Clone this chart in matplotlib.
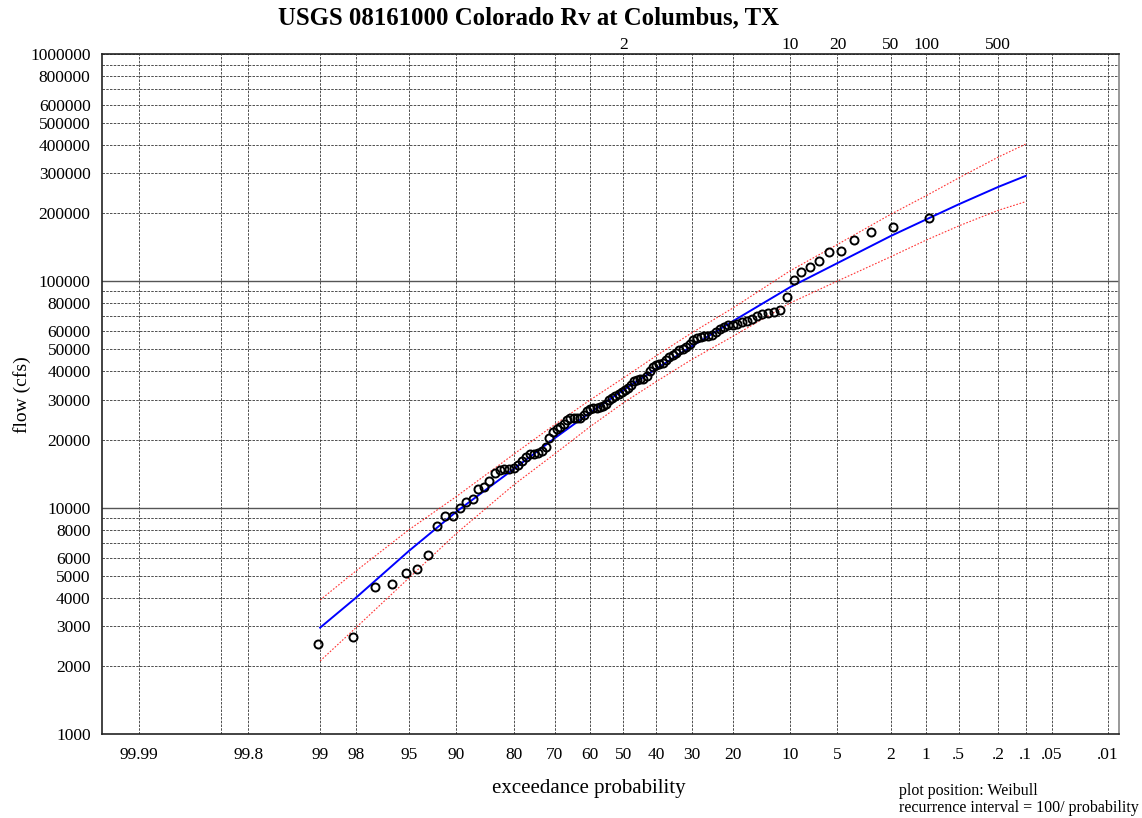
from statistics import NormalDist

import matplotlib

matplotlib.use("Agg")
import matplotlib.pyplot as plt
import numpy as np

plt.rcParams["font.family"] = ["Liberation Serif", "DejaVu Serif"]

# annual peak flows (cfs), ranked largest first
peak_flows = [
  189000, 173000, 164000, 152000, 136000, 134500, 122500, 115500, 109500, 101500,
  85300, 74500, 72800, 72500, 71500, 69900, 68100, 66800, 65700, 64800,
  63900, 63700, 62500, 61500, 59800, 58000, 57200, 57000, 56700, 56300,
  54900, 53000, 51400, 50400, 49400, 48300, 47300, 46400, 44700, 43500,
  43000, 42700, 41700, 40300, 38000, 36900, 36900, 36700, 36200, 34800,
  33700, 33000, 32500, 31700, 31000, 30500, 29800, 28600, 28000, 27900,
  27650, 27600, 27300, 26800, 25700, 25000, 24950, 24950, 24950, 24400,
  23300, 22800, 22300, 21600, 20300, 18600, 17800, 17400, 17230, 17220,
  16700, 16000, 15500, 15000, 14770, 14770, 14700, 14200, 13100, 12300,
  12100, 10970, 10570, 10000, 9230, 9230, 8340, 6170, 5380, 5150,
  4600, 4460, 2680, 2500,
]

# fitted frequency curve and confidence limits at standard probabilities (%)
fit_prob = [99, 98, 95, 90, 80, 70, 60, 50, 40, 30, 20, 10, 5, 2, 1, 0.5, 0.2, 0.1]
fit_flow = [2960, 4000, 6450, 9600, 14800, 20300, 26300, 33000, 41000, 51500,
            66500, 94000, 120000, 158000, 187000, 218000, 260000, 291000]
upper_flow = [3920, 5250, 8000, 11200, 17200, 23300, 29900, 37300, 46800, 59000,
              76000, 111000, 145000, 197000, 238000, 285000, 352000, 402000]
lower_flow = [2110, 2950, 4900, 7700, 12600, 17300, 22800, 29000, 36000, 45000,
              57000, 80000, 100000, 128000, 151600, 175000, 205000, 224000]

prob_ticks = [99.99, 99.9, 99.8, 99, 98, 95, 90, 80, 70, 60, 50, 40, 30, 20, 10,
              5, 2, 1, 0.5, 0.2, 0.1, 0.05, 0.01]
prob_labels = ["99.99", "", "99.8", "99", "98", "95", "90", "80", "70", "60", "50",
               "40", "30", "20", "10", "5", "2", "1", ".5", ".2", ".1", ".05", ".01"]

ri_labels = ["2", "10", "20", "50", "100", "500"]
ri_years = [2, 10, 20, 50, 100, 500]

flow_grid = [m * 10 ** e for e in (3, 4, 5) for m in range(1, 10)] + [1000000]
flow_labeled = [1, 2, 3, 4, 5, 6, 8]

nd = NormalDist()


def prob_to_x(p):
  # exceedance probability in percent -> normal deviate, reversed
  return -nd.inv_cdf(np.clip(p, 1e-9, 100 - 1e-9) / 100.0)


fig = plt.figure(figsize=(11.42, 8.18), dpi=100)
ax = fig.add_axes([0.08905, 0.10208, 0.89107, 0.83154])

# grid
for p in prob_ticks:
  ax.axvline(prob_to_x(p), color="#333333", lw=0.6, dashes=(3, 1.5), zorder=1)
for q in flow_grid:
  if q in (10000, 100000):
    ax.axhline(q, color="#555555", lw=1.0, zorder=1)
  else:
    ax.axhline(q, color="#333333", lw=0.6, dashes=(3, 1.5), zorder=1)

n = len(peak_flows)
weibull = [100.0 * (i + 1) / (n + 1) for i in range(n)]
xs = [prob_to_x(p) for p in weibull]

fx = [prob_to_x(p) for p in fit_prob]
ax.plot(fx, upper_flow, color="red", lw=0.8, ls=(0, (1.5, 1.5)), alpha=0.8, zorder=2)
ax.plot(fx, lower_flow, color="red", lw=0.8, ls=(0, (1.5, 1.5)), alpha=0.8, zorder=2)
ax.plot(fx, fit_flow, color="blue", lw=1.4, zorder=3)
ax.plot(xs, peak_flows, "o", ms=5.8, mfc="none", mec="black", mew=1.4, zorder=4)

ax.set_yscale("log")
ax.set_ylim(1000, 1000000)
ax.set_xlim(-4.003, 3.808)

ax.set_yticks([q for q in flow_grid if q / 10 ** int(np.log10(q)) in flow_labeled])
ax.set_yticklabels([str(q) for q in ax.get_yticks()])
ax.yaxis.set_minor_locator(matplotlib.ticker.NullLocator())
ax.set_xticks([prob_to_x(p) for p in prob_ticks])
ax.set_xticklabels(prob_labels)
ax.tick_params(axis="both", length=0, labelsize=12.5)
ax.tick_params(axis="x", pad=9)
ax.tick_params(axis="y", pad=8)

top = ax.secondary_xaxis("top")
top.set_xticks([prob_to_x(100.0 / t) for t in ri_years])
top.set_xticklabels(ri_labels)
top.tick_params(length=0, labelsize=12.5, pad=1)
top.spines["top"].set_visible(False)

for side in ("left", "bottom", "top"):
  ax.spines[side].set_color("#222222")
  ax.spines[side].set_linewidth(1.2)
ax.spines["right"].set_color("#888888")
ax.spines["right"].set_linewidth(1.2)

fig.text(22 / 1142, 1 - 395 / 818, "flow (cfs)", rotation=90, ha="center", va="center", fontsize=14)
fig.text(589 / 1142, 1 - 789 / 818, "exceedance probability", ha="center", va="center", fontsize=15)
fig.text(0.463, 1 - 18 / 818, "USGS 08161000 Colorado Rv at Columbus, TX",
         ha="center", va="center", fontsize=17.8, fontweight="bold")
fig.text(899 / 1142, 1 - 791 / 818, "plot position: Weibull", ha="left", va="center", fontsize=11.5)
fig.text(899 / 1142, 1 - 808 / 818, "recurrence interval = 100/ probability",
         ha="left", va="center", fontsize=11.5)

fig.savefig("out.png", dpi=100)
